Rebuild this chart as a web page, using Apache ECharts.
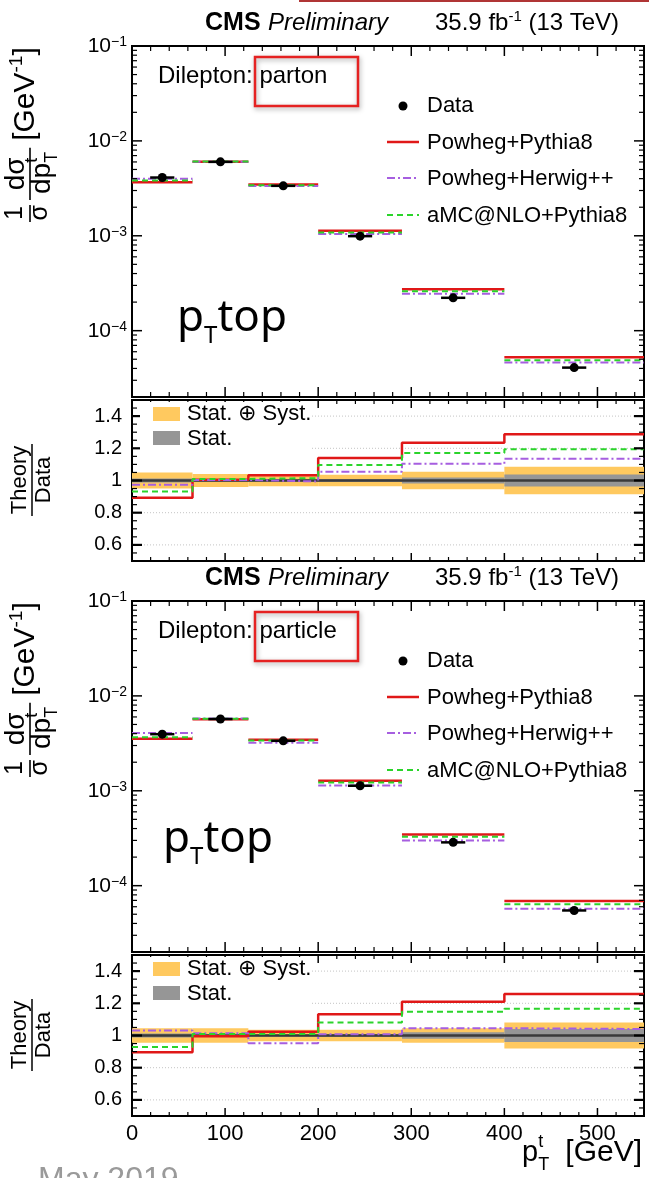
<!DOCTYPE html>
<html>
<head>
<meta charset="utf-8">
<script src="https://cdn.jsdelivr.net/npm/echarts@6/dist/echarts.min.js"></script>
<style>
html, body { margin: 0; padding: 0; background: #fff; }
#chart { width: 649px; height: 1178px; }
</style>
</head>
<body>
<div id="chart"></div>
<script>
// ---------------------------------------------------------------------------
// Normalised differential top-quark pT cross section, dilepton channel
// ---------------------------------------------------------------------------

// bin edges in top-quark pT [GeV]
const binEdges = [0, 65, 125, 200, 290, 400, 550];

// parton level, 1/sigma dsigma/dpT [GeV^-1]
const partonData          = [4.11e-3, 6.01e-3, 3.36e-3, 9.91e-4, 2.22e-4, 4.08e-5];
const partonPowhegPythia8 = [3.67e-3, 6.04e-3, 3.47e-3, 1.13e-3, 2.74e-4, 5.25e-5];
const partonPowhegHerwig  = [4.00e-3, 6.03e-3, 3.34e-3, 1.045e-3, 2.45e-4, 4.63e-5];
const partonAmcPythia8    = [3.83e-3, 6.07e-3, 3.41e-3, 1.086e-3, 2.60e-4, 4.87e-5];
// relative uncertainties of the measurement
const partonTotalUnc      = [0.050, 0.040, 0.035, 0.035, 0.054, 0.086];
const partonStatUnc       = [0.012, 0.008, 0.008, 0.010, 0.018, 0.038];

// particle level, 1/sigma dsigma/dpT [GeV^-1]
const particleData          = [3.95e-3, 5.70e-3, 3.36e-3, 1.13e-3, 2.86e-4, 5.48e-5];
const particlePowhegPythia8 = [3.54e-3, 5.67e-3, 3.44e-3, 1.279e-3, 3.46e-4, 6.89e-5];
const particlePowhegHerwig  = [4.07e-3, 5.78e-3, 3.20e-3, 1.139e-3, 2.99e-4, 5.70e-5];
const particleAmcPythia8    = [3.67e-3, 5.75e-3, 3.39e-3, 1.222e-3, 3.28e-4, 6.39e-5];
const particleTotalUnc      = [0.045, 0.045, 0.035, 0.035, 0.045, 0.080];
const particleStatUnc       = [0.012, 0.008, 0.008, 0.010, 0.020, 0.040];

// axis tick labels
const xTickLabels     = [0, 100, 200, 300, 400, 500];
const logTickLabels   = [1e-4, 1e-3, 1e-2, 1e-1];
const ratioTickLabels = [0.6, 0.8, 1, 1.2, 1.4];

// legend entries
const legendModels = ['Powheg+Pythia8', 'Powheg+Herwig++', 'aMC@NLO+Pythia8'];

// ---------------------------------------------------------------------------
// style
// ---------------------------------------------------------------------------
const FONT = '"Liberation Sans", Arial, Helvetica, sans-serif';
const C_RED = '#e01818';
const C_PURPLE = '#a65ee0';
const C_GREEN = '#2bd42b';
const C_ORANGE = '#ffc95f';
const C_GREY = '#969696';
const DASH_PURPLE = [8, 3, 2, 3];
const DASH_GREEN = [6, 4];
const DATA_XBAR = 13;       // half length of the horizontal data bar [GeV]
const X_MIN = 0, X_MAX = 550;
const LOG_MIN = 2e-5, LOG_MAX = 0.1;
const R_MIN = 0.5, R_MAX = 1.5;
const BASE_K = 0.33;        // baseline offset of a middle-aligned text, in em

const mctx = document.createElement('canvas').getContext('2d');
function textWidth(t, size, style, weight, family) {
  mctx.font = `${style || 'normal'} ${weight || 'normal'} ${size}px ${family || FONT}`;
  return mctx.measureText(t).width;
}
// lays out text pieces along a common baseline
function run(pieces, x0, base) {
  let x = x0;
  const out = [];
  pieces.forEach(p => {
    const fam = p.family || FONT;
    const k = p.k != null ? p.k : BASE_K;
    out.push({
      type: 'text', x: x, y: base + (p.dy || 0) - k * p.size, z: 100,
      style: {
        text: p.t, fontSize: p.size, fontStyle: p.style || 'normal',
        fontWeight: p.weight || 'normal', fontFamily: fam,
        fill: p.color || '#000', align: p.align || 'left', verticalAlign: 'middle'
      }
    });
    if (!p.noAdvance) x += textWidth(p.t, p.size, p.style, p.weight, fam) + (p.gap || 0);
  });
  return out;
}
function hline(x1, x2, y, stroke, width, dash) {
  return { type: 'line', z: 100, shape: { x1: x1, y1: y, x2: x2, y2: y },
           style: { stroke: stroke, lineWidth: width, lineDash: dash || null } };
}

// tick positions (drawn on all four sides of a frame, pointing inwards)
const xMinorTicks = [];
for (let v = 20; v < X_MAX; v += 20) if (v % 100) xMinorTicks.push(v);
const logMinorTicks = [];
for (let d = -5; d <= -2; d++) for (let m = 2; m <= 9; m++) {
  const v = m * Math.pow(10, d);
  if (v >= LOG_MIN && v <= LOG_MAX) logMinorTicks.push(v);
}
const ratioMinorTicks = [];
for (let i = 11; i < 30; i++) { const v = +(i * 0.05).toFixed(2); if (Math.abs(v * 5 - Math.round(v * 5)) > 1e-6) ratioMinorTicks.push(v); }
const ratioGridLines = [0.6, 0.8, 1.2, 1.4];

const grids = [], xAxes = [], yAxes = [], series = [], graphics = [];

function tickSeries(ai, yExt, xTicks, yTicks) {
  const data = [];
  xTicks.forEach(t => data.push([t.v, yExt[0], 0, t.len, t.w]));
  yTicks.forEach(t => data.push([X_MIN, t.v, 1, t.len, t.w]));
  return {
    type: 'custom', xAxisIndex: ai, yAxisIndex: ai, data: data, silent: true, z: 10, clip: false,
    encode: { x: 0, y: 1 },
    renderItem(params, api) {
      const kind = api.value(2), len = api.value(3), w = api.value(4);
      const st = { stroke: '#000', lineWidth: w };
      if (kind === 0) {
        const v = api.value(0);
        const a = api.coord([v, yExt[0]]), b = api.coord([v, yExt[1]]);
        return { type: 'group', children: [
          { type: 'line', shape: { x1: a[0], y1: a[1], x2: a[0], y2: a[1] - len }, style: st },
          { type: 'line', shape: { x1: b[0], y1: b[1], x2: b[0], y2: b[1] + len }, style: st }
        ] };
      }
      const v = api.value(1);
      const a = api.coord([X_MIN, v]), b = api.coord([X_MAX, v]);
      return { type: 'group', children: [
        { type: 'line', shape: { x1: a[0], y1: a[1], x2: a[0] + len, y2: a[1] }, style: st },
        { type: 'line', shape: { x1: b[0], y1: b[1], x2: b[0] - len, y2: b[1] }, style: st }
      ] };
    }
  };
}

function histSeries(ai, values, color, width, dash, z) {
  return {
    type: 'custom', xAxisIndex: ai, yAxisIndex: ai, z: z, silent: true,
    data: values.map((v, i) => [binEdges[i], binEdges[i + 1], v]),
    encode: { x: [0, 1], y: 2 },
    renderItem(params, api) {
      const a = api.coord([api.value(0), api.value(2)]);
      const b = api.coord([api.value(1), api.value(2)]);
      return { type: 'line', shape: { x1: a[0], y1: a[1], x2: b[0], y2: b[1] },
               style: { stroke: color, lineWidth: width, lineDash: dash || null } };
    }
  };
}

function bandSeries(ai, unc, color, z) {
  return {
    type: 'custom', xAxisIndex: ai, yAxisIndex: ai, z: z, silent: true,
    data: unc.map((u, i) => [binEdges[i], binEdges[i + 1], 1 - u, 1 + u]),
    encode: { x: [0, 1], y: [2, 3] },
    renderItem(params, api) {
      const a = api.coord([api.value(0), api.value(3)]);
      const b = api.coord([api.value(1), api.value(2)]);
      return { type: 'rect', shape: { x: a[0], y: a[1], width: b[0] - a[0], height: b[1] - a[1] },
               style: { fill: color } };
    }
  };
}

function ratioStep(ai, theory, data, color, width, dash, z) {
  const r = theory.map((t, i) => t / data[i]);
  const pts = binEdges.map((e, i) => [e, r[Math.min(i, r.length - 1)]]);
  return {
    type: 'line', xAxisIndex: ai, yAxisIndex: ai, step: 'end', data: pts, z: z,
    symbol: 'none', silent: true,
    lineStyle: { color: color, width: width, type: dash || 'solid' }
  };
}

function dataSeries(ai, values, unc) {
  return {
    type: 'custom', xAxisIndex: ai, yAxisIndex: ai, z: 6, silent: true,
    data: values.map((v, i) => [(binEdges[i] + binEdges[i + 1]) / 2, v, unc[i]]),
    encode: { x: 0, y: 1 },
    renderItem(params, api) {
      const xc = api.value(0), v = api.value(1), e = api.value(2);
      const c = api.coord([xc, v]);
      const l = api.coord([xc - DATA_XBAR, v]), r = api.coord([xc + DATA_XBAR, v]);
      const up = api.coord([xc, v * (1 + e)]), dn = api.coord([xc, v * (1 - e)]);
      return { type: 'group', children: [
        { type: 'line', shape: { x1: l[0], y1: c[1], x2: r[0], y2: c[1] }, style: { stroke: '#000', lineWidth: 2.5 } },
        { type: 'line', shape: { x1: c[0], y1: up[1], x2: c[0], y2: dn[1] }, style: { stroke: '#000', lineWidth: 2 } },
        { type: 'circle', shape: { cx: c[0], cy: c[1], r: 4.5 }, style: { fill: '#000' } }
      ] };
    }
  };
}

const sets = [
  { level: 'parton', off: 0, data: partonData, pp: partonPowhegPythia8, ph: partonPowhegHerwig,
    amc: partonAmcPythia8, tot: partonTotalUnc, stat: partonStatUnc, ptX: 177, ptBase: 336 },
  { level: 'particle', off: 555, data: particleData, pp: particlePowhegPythia8, ph: particlePowhegHerwig,
    amc: particleAmcPythia8, tot: particleTotalUnc, stat: particleStatUnc, ptX: 163, ptBase: 857 }
];

sets.forEach((s, idx) => {
  const o = s.off;
  const gm = idx * 2, gr = idx * 2 + 1;
  const gridBase = { left: 132, width: 512, show: true, borderColor: '#000', borderWidth: 2,
                     backgroundColor: 'transparent', containLabel: false, outerBoundsMode: 'none' };
  grids.push(Object.assign({ top: 46 + o, height: 351 }, gridBase));
  grids.push(Object.assign({ top: 400 + o, height: 161 }, gridBase));

  const hidden = { axisLine: { show: false }, axisTick: { show: false }, splitLine: { show: false } };
  xAxes.push(Object.assign({ gridIndex: gm, type: 'value', min: X_MIN, max: X_MAX, axisLabel: { show: false } }, hidden));
  xAxes.push(Object.assign({ gridIndex: gr, type: 'value', min: X_MIN, max: X_MAX,
    axisLabel: { show: idx === 1, customValues: xTickLabels, fontSize: 22, fontFamily: FONT, color: '#000', margin: 7 } }, hidden));
  yAxes.push(Object.assign({ gridIndex: gm, type: 'log', logBase: 10, min: LOG_MIN, max: LOG_MAX,
    axisLabel: {
      customValues: logTickLabels.map(v => Math.min(v, LOG_MAX * 0.99999)), margin: 5,
      formatter: v => '{b|10}{s|\u2212' + (-Math.round(Math.log10(v))) + '}',
      rich: {
        b: { fontSize: 21, fontFamily: FONT, color: '#000', verticalAlign: 'bottom', lineHeight: 22 },
        s: { fontSize: 14, fontFamily: FONT, color: '#000', verticalAlign: 'top', lineHeight: 14, padding: [0, 0, 10, 0] }
      }
    } }, hidden));
  yAxes.push(Object.assign({ gridIndex: gr, type: 'value', min: R_MIN, max: R_MAX,
    axisLabel: { customValues: ratioTickLabels, formatter: v => (Math.abs(v - 1) < 1e-9 ? '1' : v.toFixed(1)),
                 fontSize: 20, fontFamily: FONT, color: '#000', margin: 10 } }, hidden));

  // upper panel: theory histograms and data
  series.push(histSeries(gm, s.pp, C_RED, 2.5, null, 3));
  series.push(histSeries(gm, s.ph, C_PURPLE, 2, DASH_PURPLE, 4));
  series.push(histSeries(gm, s.amc, C_GREEN, 2, DASH_GREEN, 5));
  series.push(dataSeries(gm, s.data, s.tot));
  series.push(tickSeries(gm, [LOG_MIN, LOG_MAX],
    xTickLabels.map(v => ({ v: v, len: 10, w: 1.5 })).concat(xMinorTicks.map(v => ({ v: v, len: 5, w: 1.2 }))),
    logTickLabels.map(v => ({ v: v, len: 10, w: 1.5 })).concat(logMinorTicks.map(v => ({ v: v, len: 5, w: 1.2 })))));

  // ratio panel
  series.push({
    type: 'custom', xAxisIndex: gr, yAxisIndex: gr, z: 1, silent: true,
    data: ratioGridLines.map(v => [X_MIN, v]), encode: { x: 0, y: 1 },
    renderItem(params, api) {
      const a = api.coord([X_MIN, api.value(1)]), b = api.coord([X_MAX, api.value(1)]);
      return { type: 'line', shape: { x1: a[0], y1: a[1], x2: b[0], y2: b[1] },
               style: { stroke: '#c4c4c4', lineWidth: 1, lineDash: [1, 2] } };
    }
  });
  series.push(bandSeries(gr, s.tot, C_ORANGE, 2));
  series.push(bandSeries(gr, s.stat, C_GREY, 3));
  series.push({ type: 'line', xAxisIndex: gr, yAxisIndex: gr, data: [[X_MIN, 1], [X_MAX, 1]], z: 4,
                symbol: 'none', silent: true, lineStyle: { color: '#3a3a3a', width: 2.5 } });
  series.push(ratioStep(gr, s.pp, s.data, C_RED, 2.5, null, 5));
  series.push(ratioStep(gr, s.ph, s.data, C_PURPLE, 2, DASH_PURPLE, 6));
  series.push(ratioStep(gr, s.amc, s.data, C_GREEN, 2, DASH_GREEN, 7));
  series.push(tickSeries(gr, [R_MIN, R_MAX],
    xTickLabels.map(v => ({ v: v, len: 8, w: 1.5 })).concat(xMinorTicks.map(v => ({ v: v, len: 4, w: 1.2 }))),
    ratioTickLabels.map(v => ({ v: v, len: 10, w: 2.2 })).concat(ratioMinorTicks.map(v => ({ v: v, len: 5, w: 1.2 })))));

  // header
  graphics.push(...run([{ t: 'CMS', size: 25, weight: 'bold' }], 205, 31 + o));
  graphics.push(...run([{ t: 'Preliminary', size: 24, style: 'italic' }], 268, 31 + o));
  graphics.push(...run([{ t: '35.9 fb', size: 24 }, { t: '-1', size: 15, dy: -9 }, { t: ' (13 TeV)', size: 24 }], 435, 31 + o));

  // channel / level label with highlight box
  graphics.push(...run([{ t: 'Dilepton: ' + s.level, size: 24 }], 158, 84 + o));
  graphics.push({ type: 'rect', z: 101, shape: { x: 255, y: 57 + o, width: 103, height: 49 },
                  style: { fill: 'none', stroke: '#e52222', lineWidth: 2.5,
                           shadowBlur: 5, shadowColor: 'rgba(0,0,0,0.35)', shadowOffsetX: 1, shadowOffsetY: 2 } });

  // legend of the upper panel
  graphics.push({ type: 'circle', z: 100, shape: { cx: 403, cy: 106 + o, r: 4.5 }, style: { fill: '#000' } });
  graphics.push(...run([{ t: 'Data', size: 22 }], 427, 113 + o));
  const legStyles = [[C_RED, 2.5, null], [C_PURPLE, 2, DASH_PURPLE], [C_GREEN, 2, DASH_GREEN]];
  const legY = [142, 178, 215];
  legendModels.forEach((name, i) => {
    graphics.push(hline(387, 419, legY[i] + o, legStyles[i][0], legStyles[i][1], legStyles[i][2]));
    graphics.push(...run([{ t: name, size: 22 }], 427, legY[i] + 8 + o));
  });

  // observable label
  graphics.push(...run([
    { t: 'p', size: 44, family: '"Noto Sans", "Open Sans", sans-serif', k: 0.39 },
    { t: 'T', size: 24, family: '"Noto Sans", "Open Sans", sans-serif', k: 0.39, dy: 10 },
    { t: 'top', size: 44, family: '"Noto Sans", "Open Sans", sans-serif', k: 0.39 }
  ], s.ptX, s.ptBase));

  // y title of the upper panel: 1/sigma dsigma/dpT [GeV^-1]
  const dpW = textWidth('dp', 28);
  const tW = textWidth('T', 18);
  const dsW = textWidth('d\u03c3', 28);
  const fracStart = 22, dpStart = 28;
  const fracEnd = dpStart + dpW + tW + 4;
  graphics.push({
    type: 'group', x: 30, y: 222 + o, rotation: Math.PI / 2, children: [].concat(
      run([{ t: '1', size: 25 }], 2, -7),
      run([{ t: '\u03c3', size: 25 }], 1.5, 18),
      [hline(0, 17, 0, '#000', 1.6)],
      run([{ t: 'd\u03c3', size: 28 }], (fracStart + fracEnd - dsW) / 2, -4),
      run([{ t: 'dp', size: 28 }, { t: 't', size: 18, dy: -14, noAdvance: true }, { t: 'T', size: 18, dy: 6 }], dpStart, 22),
      [hline(fracStart, fracEnd, 0, '#000', 1.6)],
      run([{ t: '[GeV', size: 30 }, { t: '-1', size: 19, dy: -13 }, { t: ']', size: 30 }], fracEnd + 7, 6)
    )
  });

  // ratio panel y title and legend
  graphics.push({
    type: 'group', x: 32, y: 480 + o, rotation: Math.PI / 2, children: [].concat(
      run([{ t: 'Theory', size: 22, align: 'center' }], 0, -5),
      run([{ t: 'Data', size: 22, align: 'center' }], 0, 19),
      [hline(-36, 36, 0, '#000', 1.5)]
    )
  });
  graphics.push({ type: 'rect', z: 99, shape: { x: 140, y: 402 + o, width: 172, height: 48 }, style: { fill: '#fff' } });
  graphics.push({ type: 'rect', z: 100, shape: { x: 153, y: 407 + o, width: 27, height: 14 }, style: { fill: C_ORANGE } });
  graphics.push(...run([{ t: 'Stat. \u2295 Syst.', size: 22 }], 187, 421 + o));
  graphics.push({ type: 'rect', z: 100, shape: { x: 153, y: 431 + o, width: 27, height: 14 }, style: { fill: C_GREY } });
  graphics.push(...run([{ t: 'Stat.', size: 22 }], 187, 446 + o));
});

// x axis title
graphics.push(...run([{ t: 'p', size: 29 }, { t: 't', size: 18, dy: -15, noAdvance: true }, { t: 'T', size: 18, dy: 8 }], 522, 1163));
graphics.push(...run([{ t: '[GeV]', size: 30, align: 'right' }], 642, 1163));

// top rule and date stamp
graphics.push({ type: 'line', z: 100, shape: { x1: 299, y1: 1, x2: 649, y2: 1 }, style: { stroke: '#b03535', lineWidth: 2 } });
graphics.push({ type: 'text', z: 100, x: 38, y: 1164,
                style: { text: 'May 2019', fontSize: 32, fontFamily: FONT, fill: '#9a9a9a', align: 'left', verticalAlign: 'top' } });

const chart = echarts.init(document.getElementById('chart'), null, { renderer: 'canvas' });
chart.setOption({
  animation: false,
  backgroundColor: '#fff',
  grid: grids,
  xAxis: xAxes,
  yAxis: yAxes,
  series: series,
  graphic: graphics
});
</script>
</body>
</html>
